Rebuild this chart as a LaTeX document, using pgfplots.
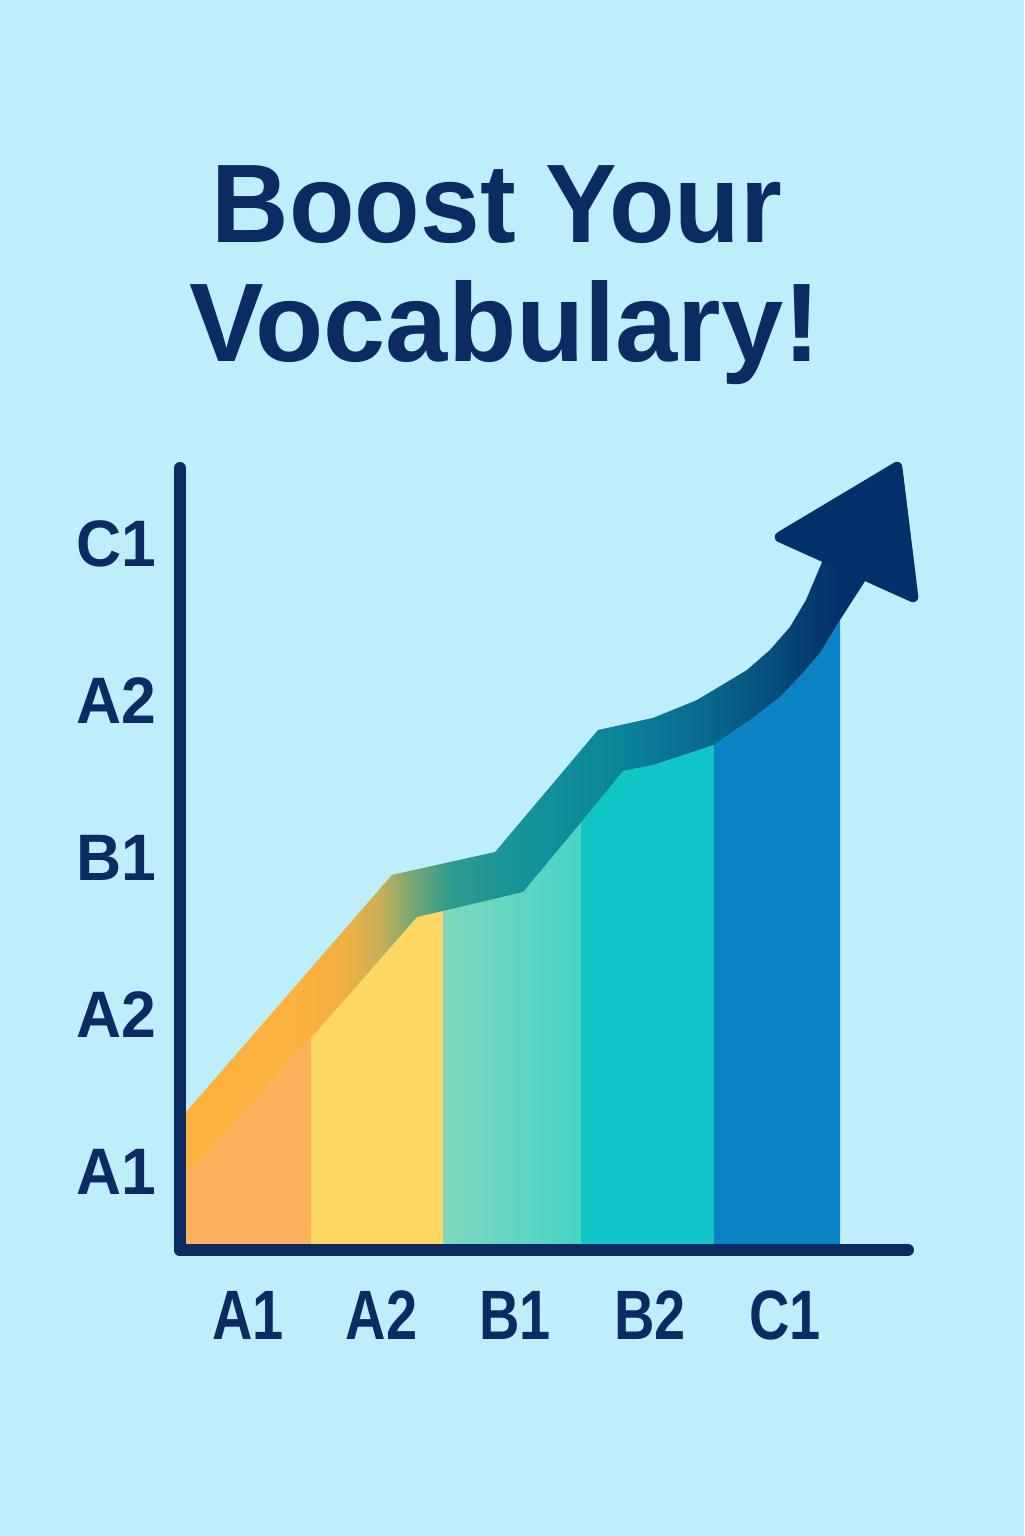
\documentclass[border=0pt]{standalone}
\usepackage{pgfplots}
\pgfplotsset{compat=1.18}
\usepackage{fontspec}
\setmainfont{Liberation Sans}
\newfontfamily\titlefontA[FakeStretch=0.96]{Liberation Sans}
\newfontfamily\titlefontB[FakeStretch=1.0]{Liberation Sans}
\newfontfamily\xfont[FakeStretch=0.80]{Liberation Sans}
\newfontfamily\yfont[FakeStretch=0.95]{Liberation Sans}
\definecolor{bg}{HTML}{BFEEFB}
\definecolor{navy}{HTML}{0B2B62}
\definecolor{cOrange}{HTML}{FDB15C}
\definecolor{cYellow}{HTML}{FED663}
\definecolor{cGreenL}{HTML}{80D8BE}
\definecolor{cGreenR}{HTML}{47D3C3}
\definecolor{cTeal}{HTML}{0FC5C6}
\definecolor{cBlue}{HTML}{0B82C3}
\definecolor{bO}{HTML}{FDB13E}
\definecolor{bO2}{HTML}{F2B042}
\definecolor{bG}{HTML}{C9AF56}
\definecolor{bG2}{HTML}{7EA872}
\definecolor{bT}{HTML}{2E9B8B}
\definecolor{bT2}{HTML}{14939B}
\definecolor{bT3}{HTML}{0A8599}
\definecolor{bD}{HTML}{0A7093}
\definecolor{bD2}{HTML}{086488}
\definecolor{bN}{HTML}{054E7E}
\definecolor{bN1}{HTML}{043C6E}
\definecolor{bN2}{HTML}{03306A}
\pgfdeclarehorizontalshading{bandsh}{100bp}{color(0bp)=(bO); color(25bp)=(bO); color(33bp)=(bO); color(36.3bp)=(bO2); color(39.2bp)=(bG); color(41.4bp)=(bG2); color(44.4bp)=(bT); color(50bp)=(bT2); color(56.9bp)=(bT3); color(61.3bp)=(bD); color(64.2bp)=(bD2); color(67.9bp)=(bN); color(70.8bp)=(bN1); color(73bp)=(bN2); color(75bp)=(bN2); color(100bp)=(bN2)}
\begin{document}
\begin{tikzpicture}
\fill[bg] (0,0) rectangle (10.24cm,15.36cm);
\node[anchor=base, text=navy, inner sep=0pt, font=\titlefontA\bfseries\fontsize{31.8}{34}\selectfont] at (4.97cm,12.93cm) {Boost Your};
\node[anchor=base, text=navy, inner sep=0pt, font=\titlefontB\bfseries\fontsize{31.8}{34}\selectfont] at (5.05cm,11.74cm) {Vocabulary!};
\begin{axis}[
  at={(1.80cm,2.86cm)}, anchor=south west,
  x=1.335cm, y=1.57cm,
  xmin=0, xmax=5.453, ymin=0, ymax=4.981,
  axis lines=left,
  axis line style={-, draw=navy, line width=3.4pt, line cap=round},
  axis on top, clip=false,
  xtick={0.51,1.51,2.51,3.52,4.53},
  xticklabels={A1,A2,B1,B2,C1},
  ytick={0.5,1.5,2.5,3.5,4.5},
  yticklabels={A1,A2,B1,A2,C1},
  major tick length=0pt,
  xticklabel style={anchor=center, yshift=-0.65cm, inner sep=0pt, text=navy, font=\xfont\bfseries\fontsize{19.9}{20}\selectfont},
  yticklabel style={anchor=center, xshift=-0.64cm, inner sep=0pt, text=navy, font=\yfont\bfseries\fontsize{18.7}{19}\selectfont},
  no markers,
]
% columns (CEFR level bars)
\addplot[draw=none, fill=cOrange] coordinates {(0.045,0) (0.045,0.478) (0.981,1.350) (0.981,0)} -- cycle;
\addplot[draw=none, fill=cYellow] coordinates {(0.981,0) (0.981,1.350) (1.775,2.121) (1.970,2.159) (1.970,0)} -- cycle;
\addplot[draw=none, left color=cGreenL, right color=cGreenR] coordinates {(1.970,0) (1.970,2.159) (2.569,2.280) (3.000,2.720) (3.000,0)} -- cycle;
\addplot[draw=none, fill=cTeal] coordinates {(3.000,0) (3.000,2.720) (3.318,3.051) (3.543,3.089) (4.000,3.217) (4.000,0)} -- cycle;
\addplot[draw=none, fill=cBlue] coordinates {(4.000,0) (4.000,3.217) (4.270,3.376) (4.494,3.522) (4.644,3.656) (4.794,3.803) (4.944,4.013) (4.944,0)} -- cycle;
% trend band
\addplot[draw=none, shade, shading=bandsh] coordinates {
 (0.045,0.879) (1.588,2.389) (2.360,2.535) (3.131,3.312) (3.543,3.389) (3.873,3.503)
 (4.247,3.694) (4.419,3.822) (4.569,3.968) (4.689,4.140) (4.816,4.395)
 (5.146,4.280) (4.944,4.013) (4.794,3.803) (4.644,3.656) (4.494,3.522) (4.270,3.376) (4.000,3.217) (3.543,3.089)
 (3.318,3.051) (3.000,2.720) (2.569,2.280) (1.970,2.159) (1.775,2.121) (0.981,1.350) (0.045,0.478)} -- cycle;
% arrow head
\addplot[fill=bN2, draw=bN2, line width=3pt, line join=round] coordinates {(5.371,4.987) (4.494,4.541) (5.491,4.159)} -- cycle;
\end{axis}
\end{tikzpicture}
\end{document}
